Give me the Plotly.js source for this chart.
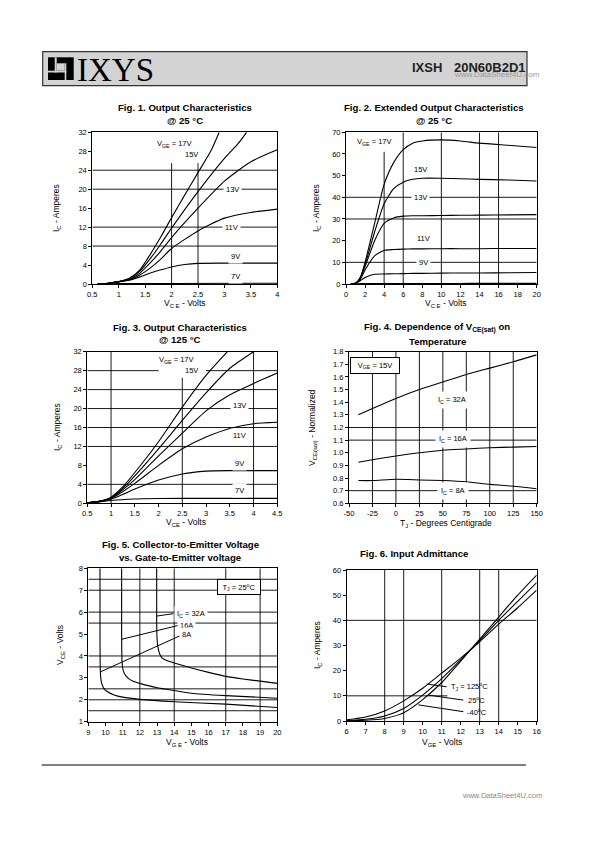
<!DOCTYPE html>
<html><head><meta charset="utf-8">
<script src="https://cdn.plot.ly/plotly-3.0.1.min.js"></script>
<style>html,body{margin:0;padding:0;background:#fff}#chart{width:595px;height:842px}</style>
</head><body><div id="chart"></div>
<script>
// ---------- DATA ----------
// Fig 1: Output characteristics @25C (VCE volts -> IC amps)
const f1_x17 = [0.6,0.8,1.0,1.2,1.4,1.6,1.8,2.0,2.25,2.5,2.75,2.9];
const f1_i17 = [0,0.15,0.5,1.2,3.0,6.3,10.0,14.0,18.8,23.5,28.2,32];
const f1_x15 = [0.6,0.8,1.0,1.2,1.4,1.6,1.8,2.0,2.5,3.0,3.25,3.42];
const f1_i15 = [0,0.15,0.5,1.1,2.7,5.4,8.5,11.8,19.5,26.5,29.5,32];
const f1_x = [0.6,0.8,1.0,1.2,1.4,1.6,1.8,2.0,2.5,3.0,3.5,4.0];
const f1_i13 = [0,0.15,0.5,1.0,2.3,4.5,7.0,9.8,16.0,21.7,25.8,28.3];
const f1_i11 = [0,0.15,0.5,0.9,1.9,3.4,5.3,7.5,11.2,13.9,15.1,15.8];
const f1_x9 = [0.6,0.8,1.0,1.2,1.4,1.6,1.8,2.0,2.25,2.5,3.0,4.0];
const f1_i9 = [0,0.15,0.45,0.8,1.5,2.3,3.0,3.6,4.1,4.35,4.4,4.4];
const f1_x7 = [0.6,1.0,2.0,4.0];
const f1_i7 = [0,0.1,0.12,0.15];
const f1_labels = ['V<sub>GE</sub> = 17V','15V','13V','11V','9V','7V'];

// Fig 2: Extended output characteristics @25C
const f2_x = [0.5,1,1.5,2,3,4,5,6,7,8,10,12,14,17,20];
const f2_i17 = [0,0.3,3,10,28,46,56,62,65,66,66.5,66,65,64,63];
const f2_i15 = [0,0.3,3,9,24,37,44,47,48.3,48.8,48.8,48.6,48.3,48,47.5];
const f2_i13 = [0,0.3,2.8,8,20,28,30.5,31.3,31.5,31.5,31.6,31.7,31.8,31.9,32];
const f2_i11 = [0,0.3,2,6.5,13,15.5,15.9,16.1,16.2,16.2,16.3,16.3,16.3,16.4,16.4];
const f2_i9 = [0,0.2,1.5,3,4.5,4.6,4.7,4.8,4.9,4.9,5.0,5.1,5.1,5.2,5.3];
const f2_i7 = [0,0.1,0.15,0.2,0.2,0.2,0.2,0.2,0.2,0.25,0.25,0.25,0.3,0.3,0.3];
const f2_labels = ['V<sub>GE</sub> = 17V','15V','13V','11V','9V'];

// Fig 3: Output characteristics @125C
const f3_x17 = [0.5,0.75,1,1.25,1.5,2,2.5,3,3.45];
const f3_i17 = [0.1,0.4,1.3,3.5,6.5,13,20.3,27,32];
const f3_x15 = [0.5,0.75,1,1.25,1.5,2,2.5,3,3.5,4.0];
const f3_i15 = [0.1,0.4,1.2,3.2,5.8,11.5,17.5,23.3,28.5,32];
const f3_x = [0.5,0.75,1,1.25,1.5,2,2.5,3,3.5,4,4.5];
const f3_i13 = [0.1,0.4,1.1,2.9,5.0,10,14.8,19.5,22.9,25.3,27.5];
const f3_i11 = [0.1,0.4,1.0,2.5,4.2,8.0,11.5,14.0,15.8,16.8,17.1];
const f3_i9 = [0.1,0.35,0.9,1.9,3.0,4.9,6.2,6.8,6.9,6.9,6.9];
const f3_x7 = [0.5,0.75,1,1.5,2,3,4.5];
const f3_i7 = [0.1,0.3,0.6,0.9,1.0,1.05,1.05];
const f3_labels = ['V<sub>GE</sub> = 17V','15V','13V','11V','9V','7V'];

// Fig 4: VCE(sat) normalized vs temperature
const f4_t = [-40,-25,0,25,50,75,100,125,150];
const f4_v32 = [1.30,1.35,1.43,1.50,1.56,1.62,1.67,1.72,1.775];
const f4_v16 = [0.925,0.945,0.975,1.0,1.02,1.03,1.04,1.045,1.05];
const f4_v8 = [0.78,0.78,0.79,0.785,0.78,0.77,0.75,0.735,0.715];
const f4_tickvals = [-50,-25,0,25,50,75,100,125,150];
const f4_ticktext = ['-50','-25','0','25','50','75','100','125','150'];
const f4_labels = ['V<sub>GE</sub> = 15V','I<sub>C</sub> = 32A','I<sub>C</sub> = 16A','I<sub>C</sub> = 8A'];

// Fig 5: VCE vs VGE
const f5_x8 = [9.68,9.68,9.7,9.74,9.8,9.9,10.1,10.5,11,12,14,17,20];
const f5_v8 = [8,5,3.3,2.9,2.7,2.52,2.38,2.22,2.12,2.02,1.91,1.8,1.65];
const f5_x16 = [10.94,10.94,10.96,11.0,11.1,11.3,11.6,12,13,14,15,17,20];
const f5_v16 = [8,5,3.8,3.45,3.2,3.0,2.85,2.75,2.55,2.42,2.3,2.19,2.07];
const f5_x32 = [12.98,12.98,13.0,13.05,13.15,13.3,13.6,14,15,16,17,18,19,20];
const f5_v32 = [8,5.5,4.8,4.4,4.1,3.9,3.78,3.68,3.45,3.25,3.07,2.95,2.85,2.75];
const f5_labels = ['T<sub>J</sub> = 25<sup>o</sup>C','I<sub>C</sub> = 32A','16A','8A'];

// Fig 6: Input admittance
const f6_x = [6,7,8,9,10,11,12,13,14,15,16];
const f6_i125 = [0.5,1.6,4,8,13,19,25,31.5,38.5,45,52];
const f6_i25 = [0.2,0.7,2,5,10.3,16.8,24.3,32,40,47.5,55];
const f6_im40 = [0.1,0.3,1,3.3,8.5,15.3,23.8,32.5,41.3,50,58];
const f6_labels = ['T<sub>J</sub> = 125<sup>o</sup>C','25<sup>o</sup>C','-40<sup>o</sup>C'];

// ---------- HELPERS ----------
const F = 'Liberation Sans, Arial, sans-serif';
const W = 595, H = 842;
const px = v => v / W, py = v => 1 - v / H;
const traces = [];
const shapes = [];
const anns = [];
function curve(ax, xs, ys, sm) {
  traces.push({x: xs, y: ys, xaxis: 'x' + ax, yaxis: 'y' + ax, mode: 'lines',
    line: {color: '#000', width: 1.1, shape: 'spline', smoothing: sm === undefined ? 0.6 : sm},
    hoverinfo: 'skip', showlegend: false});
}
function seg(ax, x0, y0, x1, y1, w) {
  shapes.push({type: 'line', xref: 'x' + ax, yref: 'y' + ax, x0, y0, x1, y1,
    line: {color: '#000', width: w || 0.9}, layer: 'below'});
}
function lab(ax, x, y, text, o) {
  anns.push(Object.assign({xref: 'x' + ax, yref: 'y' + ax, x, y, text, showarrow: false,
    font: {family: F, size: 7.5, color: '#000'}, bgcolor: '#fff', borderpad: 2,
    xanchor: 'center', yanchor: 'middle'}, o || {}));
}
function ptxt(x, y, text, o) {
  anns.push(Object.assign({xref: 'paper', yref: 'paper', x: px(x), y: py(y), text, showarrow: false,
    font: {family: F, size: 8.5, color: '#000'}, xanchor: 'center', yanchor: 'middle'}, o || {}));
}
function prect(x0, y0, x1, y1, fill, line) {
  shapes.push({type: 'rect', xref: 'paper', yref: 'paper', x0: px(x0), x1: px(x1), y0: py(y1), y1: py(y0),
    fillcolor: fill, line: line || {width: 0}, layer: 'above'});
}
function axis(d, anchor, range, dtick, extra) {
  return Object.assign({domain: d, anchor, range, dtick, tick0: range[0], showline: true, mirror: true,
    linecolor: '#000', linewidth: 1, ticks: 'outside', ticklen: 3, tickcolor: '#000', tickwidth: 1,
    showgrid: false, zeroline: false, fixedrange: true,
    tickfont: {family: F, size: 7.5, color: '#000'}}, extra || {});
}

// ---------- FIG 1 ----------
curve('', f1_x17, f1_i17); curve('', f1_x15, f1_i15); curve('', f1_x, f1_i13);
curve('', f1_x, f1_i11); curve('', f1_x9, f1_i9); curve('', f1_x7, f1_i7);
[8, 12, 20, 24].forEach(v => seg('', 0.5, v, 4, v));
seg('', 2, 0, 2, 25.5); seg('', 2.5, 0, 2.5, 25.5);
lab('', 2.06, 29.5, f1_labels[0]); lab('', 2.38, 27.4, f1_labels[1]);
lab('', 3.15, 20, f1_labels[2]); lab('', 3.14, 12, f1_labels[3]);
lab('', 3.2, 5.9, f1_labels[4]); lab('', 3.2, 1.5, f1_labels[5]);

// ---------- FIG 2 ----------
[f2_i17, f2_i15, f2_i13, f2_i11, f2_i9, f2_i7].forEach(a => curve('2', f2_x, a));
[10, 30, 40].forEach(v => seg('2', 0, v, 20, v));
seg('2', 4, 0, 4, 61);
[6, 10, 14, 16].forEach(v => seg('2', v, 0, v, 70));
lab('2', 2.94, 65.4, f2_labels[0]); lab('2', 7.83, 52.8, f2_labels[1]);
lab('2', 7.83, 40, f2_labels[2]); lab('2', 8.1, 20.8, f2_labels[3]);
lab('2', 8.1, 9.7, f2_labels[4]);

// ---------- FIG 3 ----------
curve('3', f3_x17, f3_i17); curve('3', f3_x15, f3_i15); curve('3', f3_x, f3_i13);
curve('3', f3_x, f3_i11); curve('3', f3_x, f3_i9); curve('3', f3_x7, f3_i7);
[4, 12, 16, 20, 24].forEach(v => seg('3', 0.5, v, 4.5, v));
seg('3', 0.5, 28, 2.0, 28); seg('3', 3.0, 28, 4.5, 28);
seg('3', 1, 0, 1, 32); seg('3', 4, 0, 4, 32); seg('3', 2.5, 0, 2.5, 26.5);
lab('3', 2.38, 30.2, f3_labels[0]); lab('3', 2.7, 28.0, f3_labels[1]);
lab('3', 3.71, 20.6, f3_labels[2]); lab('3', 3.71, 14.4, f3_labels[3]);
lab('3', 3.71, 8.3, f3_labels[4]); lab('3', 3.71, 2.8, f3_labels[5]);

// ---------- FIG 4 ----------
curve('4', f4_t, f4_v32); curve('4', f4_t, f4_v16); curve('4', f4_t, f4_v8);
[1.2, 1.1, 0.7].forEach(v => seg('4', -50, v, 150, v));
[-25, 0, 25, 50, 75, 100, 125].forEach(v => seg('4', v, 0.6, v, 1.8));
lab('4', -22.3, 1.69, f4_labels[0], {bordercolor: '#000', borderwidth: 1, width: 48, height: 15, borderpad: 0});
lab('4', 59.4, 1.418, f4_labels[1], {borderpad: 3});
lab('4', 61.2, 1.11, f4_labels[2], {borderpad: 3});
lab('4', 61.2, 0.70, f4_labels[3], {borderpad: 3});

// ---------- FIG 5 ----------
curve('5', f5_x8, f5_v8, 0.5); curve('5', f5_x16, f5_v16, 0.5); curve('5', f5_x32, f5_v32, 0.5);
[1.5, 2, 2.5, 3.5, 4, 5.5, 6, 7, 7.5].forEach(v => seg('5', 9, v, 20, v));
[12, 14, 17, 19].forEach(v => seg('5', v, 1, v, 8));
seg('5', 12.98, 5.82, 13.95, 5.93, 1); seg('5', 10.94, 4.76, 14.33, 5.41, 1); seg('5', 9.72, 3.28, 14.53, 4.99, 1);
lab('5', 17.79, 7.14, f5_labels[0], {bordercolor: '#000', borderwidth: 1, width: 42, height: 14, borderpad: 0});
lab('5', 15.0, 5.9, f5_labels[1]); lab('5', 14.72, 5.41, f5_labels[2]); lab('5', 14.72, 4.99, f5_labels[3]);

// ---------- FIG 6 ----------
curve('6', f6_x, f6_i125); curve('6', f6_x, f6_i25); curve('6', f6_x, f6_im40);
[8, 9, 11, 13, 14].forEach(v => seg('6', v, 0, v, 60));
seg('6', 6, 40, 16, 40); seg('6', 6, 10, 11.3, 10);
seg('6', 10.21, 14.7, 11.26, 13.6, 1); seg('6', 10.3, 10.3, 12.14, 8.3, 1); seg('6', 9.77, 6.4, 12.14, 3.7, 1);
lab('6', 11.32, 13.6, f6_labels[0], {xanchor: 'left', bgcolor: 'rgba(0,0,0,0)'});
lab('6', 12.2, 8.5, f6_labels[1], {xanchor: 'left', bgcolor: 'rgba(0,0,0,0)'});
lab('6', 12.18, 3.6, f6_labels[2], {xanchor: 'left', bgcolor: 'rgba(0,0,0,0)'});

// ---------- TITLES & AXIS TITLES ----------
const TB = {family: F, size: 9.6, color: '#000', weight: 'bold'};
ptxt(185, 107.5, '<b>Fig. 1. Output Characteristics</b>', {font: TB});
ptxt(185, 120.5, '<b>@ 25 °C</b>', {font: TB});
ptxt(434, 107.5, '<b>Fig. 2. Extended Output Characteristics</b>', {font: TB});
ptxt(434, 120.5, '<b>@ 25 °C</b>', {font: TB});
ptxt(180, 327, '<b>Fig. 3. Output Characteristics</b>', {font: TB});
ptxt(180, 339.5, '<b>@ 125 °C</b>', {font: TB});
ptxt(437, 328, '<b>Fig. 4. Dependence of V<sub>CE(sat)</sub> on</b>', {font: TB});
ptxt(437, 341, '<b>Temperature</b>', {font: TB});
ptxt(180, 544.5, '<b>Fig. 5. Collector-to-Emitter Voltage</b>', {font: TB});
ptxt(180, 557, '<b>vs. Gate-to-Emitter voltage</b>', {font: TB});
ptxt(414, 553.5, '<b>Fig. 6. Input Admittance</b>', {font: TB});

ptxt(185, 303.5, 'V<sub>C E</sub> - Volts');
ptxt(446, 303.5, 'V<sub>C E</sub> - Volts');
ptxt(186, 522, 'V<sub>CE</sub> - Volts');
ptxt(446, 523, 'T<sub>J</sub> - Degrees Centigrade');
ptxt(187, 742, 'V<sub>G E</sub> - Volts');
ptxt(442, 742, 'V<sub>GE</sub> - Volts');
const yt = {textangle: -90};
ptxt(57, 208, 'I<sub>C</sub> - Amperes', yt);
ptxt(317, 208, 'I<sub>C</sub> - Amperes', yt);
ptxt(57, 427, 'I<sub>C</sub> - Amperes', yt);
ptxt(312, 428, 'V<sub>CE(sat)</sub> - Normalized', yt);
ptxt(60, 645, 'V<sub>CE</sub> - Volts', yt);
ptxt(317, 645, 'I<sub>C</sub> - Amperes', yt);

// ---------- HEADER / FOOTER ----------
shapes.push({type: 'rect', xref: 'paper', yref: 'paper', x0: px(42.7), x1: px(527), y0: py(85.7), y1: py(51.7),
  fillcolor: '#d3d3d3', line: {color: '#333', width: 1.2}, layer: 'below'});
prect(48, 57.3, 73.7, 80, '#000');
prect(54.7, 57.3, 56.7, 72.5, '#d3d3d3');
prect(48, 70.7, 66.3, 72.5, '#d3d3d3');
prect(64.7, 63.3, 66.3, 80, '#d3d3d3');
prect(56.7, 63.3, 64.7, 70.7, '#d3d3d3');
ptxt(74.5, 69.5, 'IXYS', {xanchor: 'left', font: {family: 'Liberation Serif, Times New Roman, serif', size: 33, color: '#000'}});
ptxt(410, 67, '<b>IXSH</b>', {xanchor: 'left', font: {family: F, size: 13, color: '#222'}});
ptxt(452, 67, '<b>20N60B2D1</b>', {xanchor: 'left', font: {family: F, size: 13, color: '#222'}});
ptxt(451.5, 75, 'www.DataSheet4U.com', {xanchor: 'left', font: {family: F, size: 8, color: '#999'}});
shapes.push({type: 'line', xref: 'paper', yref: 'paper', x0: px(41.7), x1: px(526), y0: py(765), y1: py(765),
  line: {color: '#000', width: 1}});
ptxt(460, 795, 'www.DataSheet4U.com', {xanchor: 'left', font: {family: F, size: 7.5, color: '#888'}});

// ---------- LAYOUT ----------
const layout = {
  width: W, height: H, margin: {l: 0, r: 0, t: 0, b: 0}, paper_bgcolor: '#fff', plot_bgcolor: '#fff',
  showlegend: false, shapes, annotations: anns,
  xaxis: axis([px(92.3), px(277.3)], 'y', [0.5, 4], 0.5),
  yaxis: axis([py(284), py(132.3)], 'x', [0, 32], 4),
  xaxis2: axis([px(346), px(536.7)], 'y2', [0, 20], 2),
  yaxis2: axis([py(284), py(132.3)], 'x2', [0, 70], 10),
  xaxis3: axis([px(87.3), px(277.3)], 'y3', [0.5, 4.5], 0.5),
  yaxis3: axis([py(503.3), py(351.7)], 'x3', [0, 32], 4),
  xaxis4: axis([px(349), px(536.7)], 'y4', [-50, 150], 25, {tickmode: 'array', tickvals: f4_tickvals, ticktext: f4_ticktext}),
  yaxis4: axis([py(503.3), py(351.7)], 'x4', [0.6, 1.8], 0.1, {tickformat: '.1f'}),
  xaxis5: axis([px(88.3), px(277.3)], 'y5', [9, 20], 1),
  yaxis5: axis([py(721.7), py(568.3)], 'x5', [1, 8], 1),
  xaxis6: axis([px(346.7), px(536.7)], 'y6', [6, 16], 1),
  yaxis6: axis([py(721), py(570)], 'x6', [0, 60], 10)
};
Plotly.newPlot('chart', traces, layout, {staticPlot: true, displayModeBar: false});
</script></body></html>
